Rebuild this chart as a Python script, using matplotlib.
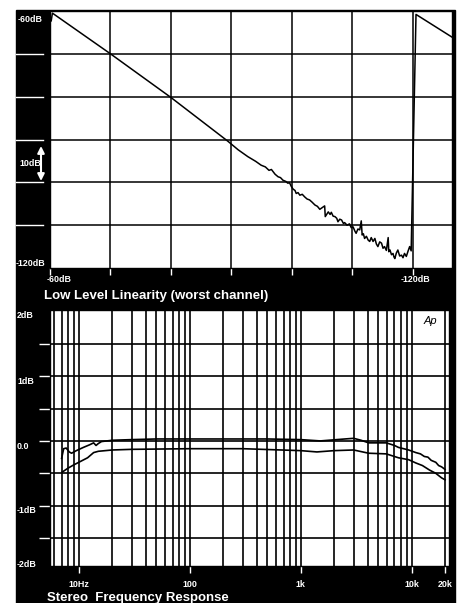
import matplotlib
matplotlib.use('Agg')
import matplotlib.pyplot as plt
from matplotlib.patches import Rectangle
from matplotlib.lines import Line2D
from matplotlib.transforms import blended_transform_factory

plt.rcParams['font.family'] = ['Liberation Sans', 'DejaVu Sans']

# ---- data: low level linearity (input dB -> output dB)
lin_in = [-60.2, -60.4, -70.0, -80.0, -89.4, -91.1, -92.7, -94.0, -94.9, -95.6,
          -96.2, -96.6, -97.2, -97.7, -98.1, -98.5, -99.0, -99.3, -99.6, -99.9,
          -100.2, -100.5, -100.7, -101.0, -101.3, -101.7, -102.1, -102.5, -102.9,
          -103.3, -103.8, -104.2, -104.6, -105.0, -105.4, -105.5, -106.0, -106.3,
          -106.5, -106.8, -107.1, -107.4, -107.6, -107.9, -108.2, -108.5, -108.7,
          -109.1, -109.5, -109.8, -110.1, -110.4, -110.6, -110.9, -111.2, -111.45,
          -111.6, -111.8, -112.0, -112.3, -112.6, -112.85, -113.1, -113.4, -113.7,
          -113.95, -114.2, -114.5, -114.8, -115.05, -115.3, -115.6, -115.9, -116.0,
          -116.2, -116.45, -116.7, -116.85, -117.0, -117.25, -117.5, -117.8, -118.1,
          -118.35, -118.6, -118.9, -119.2, -119.45, -119.7, -120.5, -126.45]
lin_out = [-62.3, -60.5, -70.0, -80.2, -90.4, -92.4, -94.0, -95.1, -96.0, -96.4,
           -97.2, -97.0, -98.1, -98.7, -98.9, -99.5, -99.8, -100.2, -100.1, -101.0,
           -101.6, -101.9, -102.6, -102.4, -103.0, -102.8, -103.4, -103.9, -104.1,
           -104.6, -105.3, -105.6, -106.3, -105.9, -105.5, -108.0, -106.9, -107.5,
           -107.0, -107.9, -108.0, -108.4, -109.2, -108.6, -108.8, -109.6, -109.4,
           -110.0, -109.7, -110.6, -110.4, -111.4, -111.9, -110.9, -111.1, -109.0,
           -112.3, -112.0, -113.1, -112.6, -113.5, -113.8, -112.9, -113.8, -113.1,
           -114.4, -115.0, -113.9, -114.2, -115.4, -115.0, -115.9, -112.9, -116.2,
           -115.8, -116.9, -116.6, -117.4, -117.8, -116.5, -115.8, -117.2, -117.0,
           -117.6, -116.6, -117.3, -116.0, -115.0, -116.0, -60.8, -66.1]

lin_xticks = [-60, -70, -80, -90, -100, -110, -120]
lin_yticks = [-70, -80, -90, -100, -110]

# ---- data: stereo frequency response (Hz -> dB)
fr_hi_f = [7.0, 7.3, 7.7, 8.2, 8.6, 9.5, 11, 12.5, 13.6, 14.3, 15, 16, 20, 30, 50,
           100, 200, 500, 1000, 1500, 2500, 3000, 3500, 4100, 5900, 7000, 7600,
           9400, 10900, 12000, 13000, 14000, 15000, 16500, 17500, 18600, 20000]
fr_hi_db = [-0.27, -0.12, -0.11, -0.17, -0.19, -0.15, -0.10, -0.06, -0.03, -0.07,
            -0.04, -0.01, 0.01, 0.02, 0.03, 0.03, 0.03, 0.03, 0.02, 0.0, 0.03,
            0.04, 0.01, -0.03, -0.03, -0.07, -0.10, -0.14, -0.18, -0.20, -0.24,
            -0.25, -0.30, -0.33, -0.38, -0.40, -0.44]
fr_lo_f = [7.1, 8, 9, 10, 12, 13.6, 15, 20, 30, 100, 300, 1000, 1400, 2000, 3000,
           4100, 5900, 7600, 9400, 10900, 12500, 14500, 16500, 18600, 20000]
fr_lo_db = [-0.48, -0.42, -0.37, -0.33, -0.26, -0.18, -0.16, -0.14, -0.13, -0.12,
            -0.12, -0.15, -0.17, -0.15, -0.14, -0.19, -0.20, -0.26, -0.29, -0.34,
            -0.38, -0.45, -0.50, -0.57, -0.60]

fr_grid = [6, 7, 8, 9, 10, 20, 30, 40, 50, 60, 70, 80, 90,
           100, 200, 300, 400, 500, 600, 700, 800, 900,
           1000, 2000, 3000, 4000, 5000, 6000, 7000, 8000, 9000, 10000, 20000]
fr_ticks = [10, 100, 1000, 10000, 20000]
fr_ticklabels = ['10Hz', '100', '1k', '10k', '20k']
fr_yticks = [-1.5, -1.0, -0.5, 0.0, 0.5, 1.0, 1.5]
fr_ylabels = ['-2dB', '-1dB', '0.0', '1dB', '2dB']
fr_ylabel_pos = [-1.90, -1.08, -0.08, 0.92, 1.93]

W, H = 458, 603


def fx(px):
    return px / W


def fy(py):
    return 1 - py / H


fig = plt.figure(figsize=(W / 100, H / 100), dpi=100)
fig.patch.set_facecolor('white')

# black card behind both panels
fig.patches.append(Rectangle((fx(16), fy(603)), fx(455) - fx(16), fy(10) - fy(603),
                             transform=fig.transFigure, color='black', zorder=-10))

# ---------------- top panel ----------------
ax1 = fig.add_axes([fx(50), fy(268), fx(452) - fx(50), fy(11) - fy(268)])
ax1.set_facecolor('white')
ax1.set_xlim(-60, -126.45)
ax1.set_ylim(-120, -60)
ax1.set_xticks(lin_xticks)
ax1.set_yticks(lin_yticks)
ax1.set_xticklabels([])
ax1.set_yticklabels([])
ax1.grid(True, color='black', lw=1.1)
ax1.tick_params(axis='x', direction='out', color='white', length=5, width=1)
ax1.tick_params(axis='y', length=0)
for s in ax1.spines.values():
    s.set_color('black')
    s.set_linewidth(1)
ax1.plot(lin_in, lin_out, color='black', lw=1.1)

# white marks in the left strip
tr1 = blended_transform_factory(fig.transFigure, ax1.transData)
for v in lin_yticks:
    fig.add_artist(Line2D([fx(16), fx(43)], [v, v], transform=tr1, color='white', lw=1))

txt = dict(color='white', fontweight='bold', transform=fig.transFigure)
fig.text(fx(18), fy(20), '-60dB', fontsize=6.4, va='center', ha='left', **txt)
fig.text(fx(19), fy(164), '10dB', fontsize=6.4, va='center', ha='left', **txt)
fig.text(fx(16), fy(264), '-120dB', fontsize=6.4, va='center', ha='left', **txt)
fig.text(fx(47), fy(280), '-60dB', fontsize=6.4, va='center', ha='left', **txt)
fig.text(fx(401), fy(280), '-120dB', fontsize=6.4, va='center', ha='left', **txt)
fig.text(fx(44), fy(296), 'Low Level Linearity (worst channel)', fontsize=9.5,
         va='center', ha='left', **txt)
ax1.annotate('', xy=(fx(41), fy(146)), xytext=(fx(41), fy(181)),
             xycoords='figure fraction', textcoords='figure fraction',
             arrowprops=dict(arrowstyle='<|-|>', color='white', lw=1.5,
                             mutation_scale=10, shrinkA=0, shrinkB=0))

# ---------------- bottom panel ----------------
ax2 = fig.add_axes([fx(50), fy(566), fx(449) - fx(50), fy(310) - fy(566)])
ax2.set_facecolor('white')
ax2.set_xscale('log')
ax2.set_xlim(5.5, 21700)
ax2.set_ylim(-1.93, 2.02)
ax2.set_xticks(fr_ticks)
ax2.set_xticklabels(fr_ticklabels)
ax2.set_xticks(fr_grid, minor=True)
ax2.set_xticklabels([], minor=True)
ax2.set_yticks(fr_yticks)
ax2.set_yticklabels([])
ax2.grid(True, which='both', axis='x', color='black', lw=1.2)
ax2.grid(True, which='major', axis='y', color='black', lw=1.2)
ax2.tick_params(axis='x', which='major', direction='out', color='white', length=5,
                width=1, labelcolor='white', labelsize=6.4, pad=5)
ax2.tick_params(axis='x', which='minor', length=0)
ax2.tick_params(axis='y', direction='out', color='white', length=8, width=1)
for lab in ax2.get_xticklabels():
    lab.set_fontweight('bold')
for s in ax2.spines.values():
    s.set_color('black')
    s.set_linewidth(1)
ax2.plot(fr_hi_f, fr_hi_db, color='black', lw=1.2)
ax2.plot(fr_lo_f, fr_lo_db, color='black', lw=1.2)

tr2 = blended_transform_factory(fig.transFigure, ax2.transData)
for lab, pos in zip(fr_ylabels, fr_ylabel_pos):
    fig.text(fx(17), pos, lab, fontsize=6.4, va='center', ha='left', color='white',
             fontweight='bold', transform=tr2)

ax2.text(0.935, 0.975, 'Ap', transform=ax2.transAxes, fontsize=8, style='italic',
         va='top', ha='left', color='black')
fig.text(fx(47), fy(592), 'Stereo  Frequency Response', fontsize=9.5, va='top',
         ha='left', **txt)

fig.savefig('out.png', dpi=100)
